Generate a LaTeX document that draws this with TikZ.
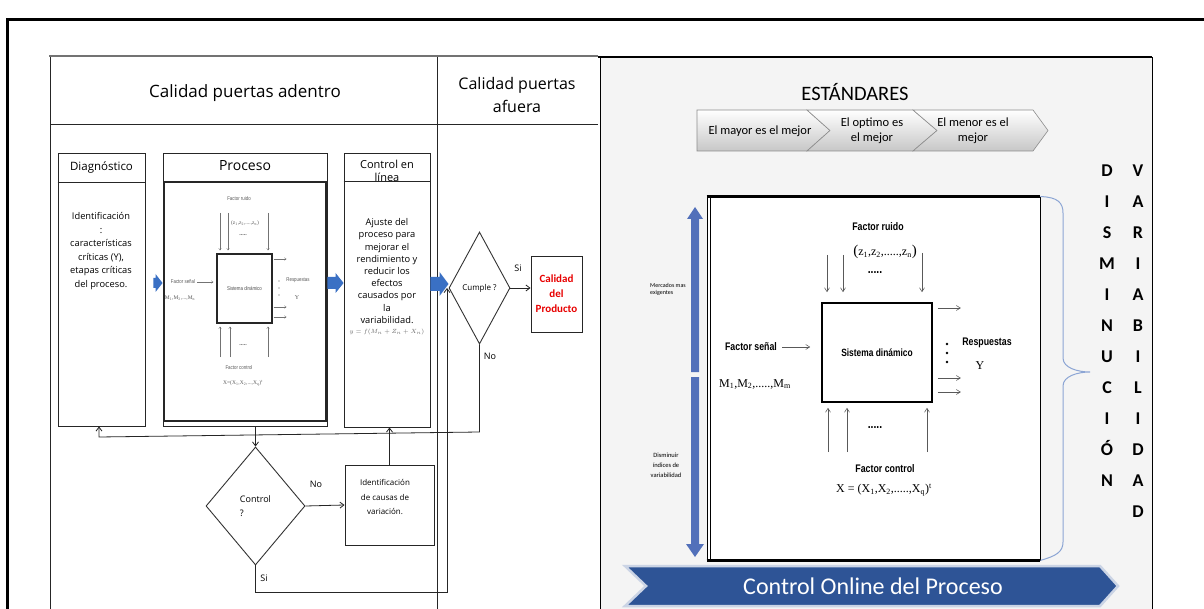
\documentclass[tikz,border=0pt]{standalone}
\usepackage{fontspec}
\setmainfont{Liberation Serif}
\newfontfamily\osans{Open Sans}
\newfontfamily\calib{Carlito}
\newfontfamily\narrowsans[FakeStretch=0.8]{Liberation Sans}
\newfontfamily\tms{Liberation Serif}
\usetikzlibrary{arrows.meta,shapes.geometric,calc}

\definecolor{fatblue}{RGB}{58,112,196}
\definecolor{barblue}{RGB}{82,112,186}
\definecolor{bannerblue}{RGB}{46,84,150}
\definecolor{bracecol}{RGB}{140,165,212}
\definecolor{prodred}{RGB}{232,0,0}
\definecolor{panelgray}{RGB}{244,244,244}

\newcommand{\fsz}[2]{\fontsize{#1}{#2}\selectfont}
\newcommand{\sbs}[1]{\textsubscript{#1}}
% block arrow: start, end, shaft half-height, head half-height, head length
\newcommand{\blockarrow}[5]{%
  \fill[fatblue] ($(#1)+(0,-#3)$) -- ($(#2)+(-#5,-#3)$) -- ($(#2)+(-#5,-#4)$) -- (#2)
    -- ($(#2)+(-#5,#4)$) -- ($(#2)+(-#5,#3)$) -- ($(#1)+(0,#3)$) -- cycle;}

\begin{document}
\begin{tikzpicture}[x=1pt,y=-1pt,
  box/.style={draw=black!85,line width=0.9pt,inner sep=0pt,fill=white},
  txt/.style={inner sep=0pt,align=center},
  flow/.style={draw=black!85,line width=0.8pt,-{Straight Barb[length=4pt,width=6pt]}},
  tinyflow/.style={draw=black!55,line width=0.35pt,-{Straight Barb[length=2pt,width=2.6pt]}},
  sysflow/.style={draw=black!65,line width=0.55pt,-{Straight Barb[length=4pt,width=5pt]}},
  chev/.style={draw=black!45,line width=0.6pt,top color=white,bottom color=black!22},
  tiny/.style={txt,font=\narrowsans\fsz{5.5}{6.5},text=black!65},
  lbl/.style={txt,font=\osans\fsz{9}{10}},
]
\useasboundingbox (0,0) rectangle (1204,609);
\fill[white] (0,0) rectangle (1204,609);

% outer frame
\draw[line width=3pt] (7,609) -- (7,20) -- (1204,20);

% ---------------- left panel: quality flow ----------------
\draw[black!55,line width=2.5pt] (49,56) -- (598,56);
\draw[black!85,line width=0.9pt] (50,57) -- (50,609);
\draw[black!85,line width=0.9pt] (437,57) -- (437,609);
\draw[black!85,line width=0.9pt] (50,124) -- (598,124);
\node[txt,font=\osans\fsz{17}{20}] (hin) at (245,93) {Calidad puertas adentro};
\node[txt,font=\osans\fsz{16}{23}] (hout) at (517,95) {Calidad puertas\\afuera};

% Diagnostico
\node[box,minimum width=87pt,minimum height=273pt] (diag) at (101.5,289.5) {};
\draw[black!85,line width=0.9pt] (diag.west |- 0,182) -- (diag.east |- 0,182);
\node[txt,font=\osans\fsz{11.5}{14}] (diagt) at (101.5,167) {Diagnóstico};
\node[txt,font=\osans\fsz{9.3}{13.6}] (diagb) at (101,251)
  {Identificación\\:\\características\\críticas (Y),\\etapas críticas\\del proceso.};

% Proceso
\node[box,minimum width=164pt,minimum height=273pt] (proc) at (245,289.5) {};
\node[txt,font=\osans\fsz{14}{16}] (proct) at (245,166) {Proceso};
\draw[black!85,line width=1.8pt] (164,182) rectangle (326,421);

% small system diagram inside Proceso
\node[box,line width=1.1pt,minimum width=55pt,minimum height=69pt,
      font=\narrowsans\fsz{5.5}{6.5},text=black!70] (psis) at (244.5,288.5) {Sistema dinámico};
\node[tiny] (pfr) at (239,199) {Factor ruido};
\node[txt,font=\tms\fsz{5.5}{6.5},text=black!65] (pz) at (245,223) {(z\sbs{1},z\sbs{2},....,z\sbs{n})};
\node[txt,font=\bfseries\fsz{6}{6},text=black!65] (pd1) at (243,235) {.....};
\foreach \x in {220,228,268}
  \draw[tinyflow,shorten >=3pt] (\x,213) -- (psis.north -| \x,0);
\node[tiny] (pfs) at (183,282) {Factor señal};
\draw[tinyflow,shorten <=2pt,shorten >=3pt] (pfs.east) -- (pfs.east -| psis.west);
\node[txt,font=\tms\fsz{5.5}{6.5},text=black!65] (pm) at (180,298) {M\sbs{1},M\sbs{2},...,M\sbs{n}};
\foreach \y in {259,307,317}
  \draw[tinyflow,shorten <=1pt] (psis.east |- 0,\y) -- ++(14,0);
\foreach \y in {281,288,295}
  \fill[black!65] (279,\y) circle (0.7);
\node[tiny] (presp) at (298,280) {Respuestas};
\node[txt,font=\tms\fsz{6}{7},text=black!65] (py) at (297,298) {Y};
\foreach \x in {220,230,268}
  \draw[tinyflow,shorten >=3pt] (\x,357) -- (psis.south -| \x,0);
\node[txt,font=\bfseries\fsz{6}{6},text=black!65] (pd2) at (243,345) {.....};
\node[tiny] (pfc) at (239,368) {Factor control};
\node[txt,font=\tms\fsz{5.5}{6.5},text=black!65] (px) at (243,383) {X=(X\sbs{1},X\sbs{2},...,X\sbs{q})\textsuperscript{t}};

% Control en linea
\node[box,minimum width=86pt,minimum height=274pt] (onl) at (387,290) {};
\draw[black!85,line width=0.9pt] (onl.west |- 0,181) -- (onl.east |- 0,181);
\node[txt,font=\osans\fsz{11}{13}] (onlt) at (387,170.5) {Control en\\línea};
\node[txt,font=\osans\fsz{9.3}{12.2}] (onlb) at (387,271)
  {Ajuste del\\proceso para\\mejorar el\\rendimiento y\\reducir los\\efectos\\causados por\\la\\variabilidad.};
\node[txt,font=\fsz{6.4}{8},text=black!60] (onlf) at (387,332) {$y=f(M_n+Z_n+X_n)$};

% decisions and outcome
\node[draw=black!80,line width=0.9pt,diamond,inner sep=0pt,minimum width=61pt,minimum height=112pt,
      font=\osans\fsz{8}{10}] (cumple) at (479.5,288) {Cumple ?};
\node[box,minimum width=51pt,minimum height=76pt,font=\calib\bfseries\fsz{11}{15},
      text=prodred,align=center] (prod) at (556.5,294) {Calidad\\del\\Producto};
\node[draw=black!80,line width=0.9pt,diamond,inner sep=0pt,minimum width=99pt,minimum height=118pt,
      align=left,font=\osans\fsz{9}{14}] (ctrl) at (255.5,506) {Control\\?};
\node[box,minimum width=89pt,minimum height=80pt] (ident) at (389.5,505) {};
\node[txt,font=\osans\fsz{8}{14.5}] (identt) at (385,497) {Identificación\\de causas de\\variación.};

\node[lbl] (lsi1) at (518,268) {Si};
\node[lbl] (lno1) at (490,356) {No};
\node[lbl] (lno2) at (316,484) {No};
\node[lbl] (lsi2) at (264,578) {Si};

% connectors
\coordinate (fbR) at (479.5,432);
\coordinate (fbL) at (99,437);
\draw[flow] (cumple.south) -- (fbR) -- (fbL) -- (fbL |- diag.south);
\draw[flow] (ctrl.north |- proc.south) -- (ctrl.north);
\draw[flow] (ctrl.east) -- (ident.west);
\draw[flow] (ident.north) -- (ident.north |- onl.south);
\coordinate (siR) at (447,592);
\draw[flow] (ctrl.south) |- (siR) -- (siR |- cumple.west);
\draw[flow] (cumple.east) -- (cumple.east -| prod.west);

% block arrows between stages
\coordinate (a1s) at ([xshift=8pt,yshift=6.5pt]diag.east);
\coordinate (a1e) at ([yshift=6.5pt]proc.west);
\blockarrow{a1s}{a1e}{5}{9}{7}
\coordinate (a2s) at ([yshift=6.5pt]proc.east);
\coordinate (a2e) at (a2s -| onl.west);
\blockarrow{a2s}{a2e}{6}{10}{8}
\coordinate (a3s) at ([yshift=6pt]onl.east);
\coordinate (a3e) at (a3s -| cumple.west);
\blockarrow{a3s}{a3e}{7}{12}{9}

% ---------------- right panel: standards and online control ----------------
\fill[panelgray] (600,57) rectangle (1152,609);
\draw[black,line width=1.2pt] (598,57) -- (1152,57);
\draw[black,line width=1pt] (600,57) -- (600,609);
\draw[black,line width=1pt] (1152,57) -- (1152,609);

\node[txt,font=\calib\fsz{20.5}{24}] (est) at (855,92) {ESTÁNDARES};
\path[chev] (697,110) -- (807,110) -- (830,130.5) -- (807,151) -- (697,151) -- cycle;
\path[chev] (807,110) -- (913,110) -- (937,130.5) -- (913,151) -- (807,151) -- (830,130.5) -- cycle;
\path[chev] (913,110) -- (1033,110) -- (1048,130.5) -- (1033,151) -- (913,151) -- (937,130.5) -- cycle;
\node[txt,font=\calib\fsz{12.5}{15}] (c1) at (760,131) {El mayor es el mejor};
\node[txt,font=\calib\fsz{12.5}{15}] (c2) at (872,131) {El optimo es\\el mejor};
\node[txt,font=\calib\fsz{12.5}{15}] (c3) at (973,131) {El menor es el\\mejor};

% side notes and the two blue bars
\node[txt,align=left,anchor=west,font=\calib\fsz{6}{7}] (merc) at (650,289) {Mercados mas\\exigentes};
\node[txt,font=\calib\fsz{6.5}{10}] (dism) at (666,465) {Disminuir\\índices de\\variabilidad};
\fill[barblue] (691,372) -- (691,219) -- (687,219) -- (695,207) -- (703,219) -- (699,219) -- (699,372) -- cycle;
\fill[barblue] (691,377) -- (691,544) -- (686,544) -- (695,557) -- (704,544) -- (699,544) -- (699,377) -- cycle;

% system frame
\node[draw=black,line width=0.8pt,fill=white,inner sep=0pt,minimum width=333pt,minimum height=363pt] (mainbox) at (873.5,378.5) {};
\draw[line width=2.4pt] (mainbox.north west) -- (mainbox.north east);
\draw[line width=2.4pt] (mainbox.south west) -- (mainbox.south east);
\draw[line width=0.8pt] (710,198) -- (710,559);

\node[draw=black,line width=1.6pt,fill=white,inner sep=0pt,minimum width=110pt,minimum height=99pt,
      font=\narrowsans\bfseries\fsz{10.5}{12}] (sys) at (877,352.5) {Sistema dinámico};
\node[txt,font=\narrowsans\bfseries\fsz{11}{13}] (fr) at (878,227) {Factor ruido};
\node[txt,font=\tms\fsz{12}{14}] (zz) at (885,252) {{\fsz{15}{14}(}z\sbs{1},z\sbs{2},.....,z\sbs{n}{\fsz{15}{14})}};
\node[txt,font=\narrowsans\bfseries\fsz{13}{13}] (d1) at (875,273) {.....};
\foreach \x/\y in {827/255,843/255,922/253}
  \draw[sysflow,shorten >=10pt] (\x,\y) -- (sys.north -| \x,0);
\node[txt,font=\narrowsans\bfseries\fsz{11}{13}] (fsen) at (751,347) {Factor señal};
\draw[sysflow,shorten <=5pt,shorten >=11pt] (fsen.east) -- (fsen.east -| sys.west);
\node[txt,font=\tms\fsz{12}{14}] (mm) at (755,384) {M\sbs{1},M\sbs{2},.....,M\sbs{m}};
\foreach \y in {308,378,392}
  \draw[sysflow,shorten <=5pt] (sys.east |- 0,\y) -- ++(28,0);
\foreach \y in {344,353,362}
  \fill (947,\y) circle (1.3);
\node[txt,font=\narrowsans\bfseries\fsz{11}{13}] (resp) at (987,343) {Respuestas};
\node[txt,font=\tms\fsz{12}{14}] (yy) at (980,366) {Y};
\foreach \x in {828,847,927}
  \draw[sysflow,shorten >=5pt] (\x,452) -- (sys.south -| \x,0);
\node[txt,font=\narrowsans\bfseries\fsz{13}{13}] (d2) at (875,428) {.....};
\node[txt,font=\narrowsans\bfseries\fsz{11}{13}] (fc) at (885,469) {Factor control};
\node[txt,font=\tms\fsz{12}{14}] (xx) at (884,490) {X = (X\sbs{1},X\sbs{2},.....,X\sbs{q})\textsuperscript{t}};

% brace on the right of the frame
\draw[bracecol,line width=1pt] (mainbox.north east) .. controls (1058,197) and (1063,203) .. (1063,213)
  -- (1063,358) .. controls (1063,368) and (1078,372) .. (1090,372)
  .. controls (1078,372) and (1063,376) .. (1063,386)
  -- (1063,542) .. controls (1063,552) and (1056,556) .. (mainbox.south east);

% vertical words
\node[txt,anchor=north,font=\calib\bfseries\fsz{18}{31}] (colA) at (1107,165)
  {D\\I\\S\\M\\I\\N\\U\\C\\I\\Ó\\N};
\node[txt,anchor=north,font=\calib\bfseries\fsz{18}{31}] (colB) at (1138,165)
  {V\\A\\R\\I\\A\\B\\I\\L\\I\\D\\A\\D};

% bottom banner
\path[draw=bannerblue!25,line width=2.5pt,fill=bannerblue]
  (625,566) -- (1100,566) -- (1118,586) -- (1100,606) -- (625,606) -- (646,586) -- cycle;
\node[txt,text=white,font=\calib\fsz{24}{28}] (banner) at (873,586) {Control Online del Proceso};
\end{tikzpicture}
\end{document}
